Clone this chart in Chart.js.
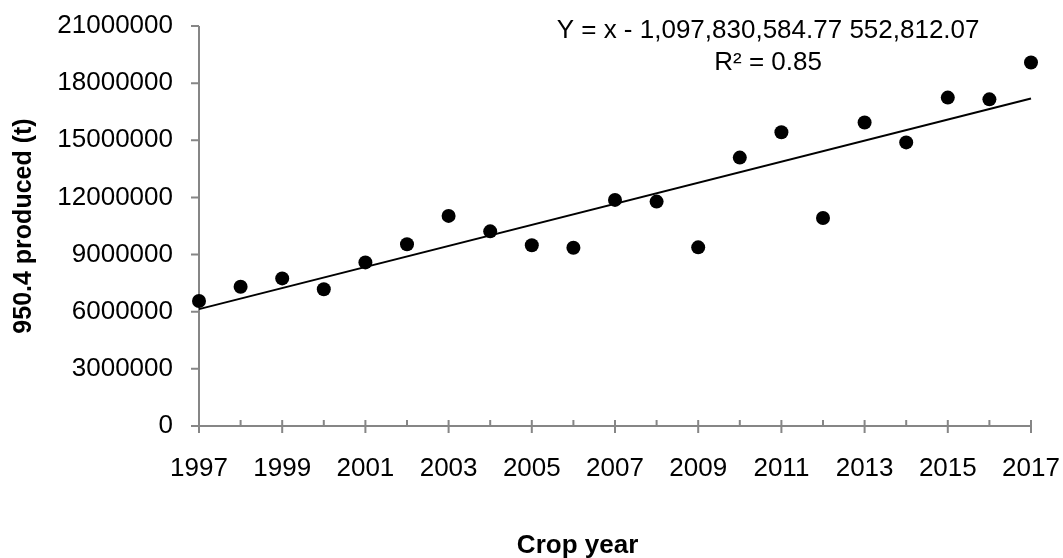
<!DOCTYPE html>
<html>
<head>
<meta charset="utf-8">
<script src="https://cdn.jsdelivr.net/npm/chart.js@4.4.1/dist/chart.umd.min.js"></script>
<style>
  html, body { margin: 0; padding: 0; background: #fff; }
  #wrap { width: 1063px; height: 558px; }
</style>
</head>
<body>
<div id="wrap"><canvas id="cropChart"></canvas></div>
<script>
// --- du lieu doc tu hinh ---
const years = [1997, 1998, 1999, 2000, 2001, 2002, 2003, 2004, 2005, 2006, 2007,
               2008, 2009, 2010, 2011, 2012, 2013, 2014, 2015, 2016, 2017];
const production = [6560000, 7310000, 7750000, 7180000, 8590000, 9540000, 11030000,
                    10220000, 9490000, 9360000, 11870000, 11780000, 9380000, 14090000,
                    15420000, 10920000, 15930000, 14890000, 17240000, 17150000, 19080000];

// duong xu huong (2 dau mut)
const trendYears = [1997, 2017];
const trendValues = [6135119, 17191360];

const xTickLabels = ['1997', '1999', '2001', '2003', '2005', '2007', '2009', '2011', '2013', '2015', '2017'];
const yTickValues = [0, 3000000, 6000000, 9000000, 12000000, 15000000, 18000000, 21000000];

const equationLines = ['Y = x - 1,097,830,584.77 552,812.07', 'R\u00b2 = 0.85'];
const xTitle = 'Crop year';
const yTitle = '950.4 produced (t)';

const FONT = "'Liberation Sans', Arial, sans-serif";
const AXIS_GRAY = '#868686';

// ve truc + vach chia (major cat qua truc, minor chi o trong)
const axesPlugin = {
    id: 'axesPlugin',
    beforeDatasetsDraw(chart) {
        const { ctx, chartArea, scales: { x, y } } = chart;
        const x0 = chartArea.left;
        const y0 = chartArea.bottom;
        ctx.save();
        ctx.strokeStyle = AXIS_GRAY;
        ctx.lineWidth = 2;
        ctx.beginPath();
        ctx.moveTo(x0, chartArea.top);
        ctx.lineTo(x0, y0);
        ctx.lineTo(chartArea.right, y0);
        yTickValues.forEach(v => {
            const py = y.getPixelForValue(v);
            ctx.moveTo(x0 - 8, py);
            ctx.lineTo(x0, py);
        });
        years.forEach(yr => {
            const px = x.getPixelForValue(yr);
            const major = xTickLabels.includes(String(yr));
            ctx.moveTo(px, y0 - 6);
            ctx.lineTo(px, major ? y0 + 7 : y0);
        });
        ctx.stroke();
        ctx.restore();
    },
    afterDraw(chart) {
        const { ctx, chartArea } = chart;
        const w = chartArea.right - chartArea.left;
        ctx.save();
        ctx.fillStyle = '#000';
        ctx.textAlign = 'center';
        ctx.textBaseline = 'middle';
        ctx.font = '26px ' + FONT;
        const ex = chartArea.left + 0.684 * w;
        ctx.fillText(equationLines[0], ex, chartArea.top + 5);
        ctx.fillText(equationLines[1], ex, chartArea.top + 37);
        ctx.font = 'bold 26px ' + FONT;
        ctx.fillText(xTitle, chartArea.left + 0.455 * w, chart.height - 12);
        ctx.restore();
    }
};

new Chart(document.getElementById('cropChart'), {
    type: 'scatter',
    data: {
        datasets: [{
            label: 'Production',
            data: years.map((yr, i) => ({ x: yr, y: production[i] })),
            backgroundColor: '#000',
            borderWidth: 0,
            pointRadius: 7,
            pointHoverRadius: 7,
            clip: false
        }, {
            type: 'line',
            label: 'Trend',
            data: trendYears.map((yr, i) => ({ x: yr, y: trendValues[i] })),
            borderColor: '#000',
            borderWidth: 2,
            pointRadius: 0,
            fill: false,
            clip: false
        }]
    },
    options: {
        responsive: true,
        maintainAspectRatio: false,
        animation: false,
        layout: { padding: { top: 26, right: 32, left: 0, bottom: 0 } },
        plugins: {
            legend: { display: false },
            tooltip: { enabled: false }
        },
        scales: {
            x: {
                type: 'linear',
                min: 1997,
                max: 2017,
                grid: { display: false, drawTicks: false },
                border: { display: false },
                afterFit: scale => {
                    scale.height = 132;
                    scale.paddingLeft = 0;
                    scale.paddingRight = 0;
                },
                ticks: {
                    stepSize: 1,
                    autoSkip: false,
                    maxRotation: 0,
                    padding: 27,
                    color: '#000',
                    font: { family: FONT, size: 26 },
                    callback: v => xTickLabels.includes(String(v)) ? String(v) : ''
                }
            },
            y: {
                min: 0,
                max: 21000000,
                grid: { display: false, drawTicks: false },
                border: { display: false },
                afterFit: scale => {
                    scale.width = 199;
                    scale.paddingTop = 0;
                    scale.paddingBottom = 0;
                },
                afterBuildTicks: scale => {
                    scale.ticks = yTickValues.map(v => ({ value: v }));
                },
                ticks: {
                    padding: 26,
                    color: '#000',
                    font: { family: FONT, size: 26 },
                    callback: v => String(v)
                },
                title: {
                    display: true,
                    text: yTitle,
                    color: '#000',
                    padding: { top: 9, bottom: 0 },
                    font: { family: FONT, size: 25, weight: 'bold', lineHeight: 1.2 }
                }
            }
        }
    },
    plugins: [axesPlugin]
});
</script>
</body>
</html>
